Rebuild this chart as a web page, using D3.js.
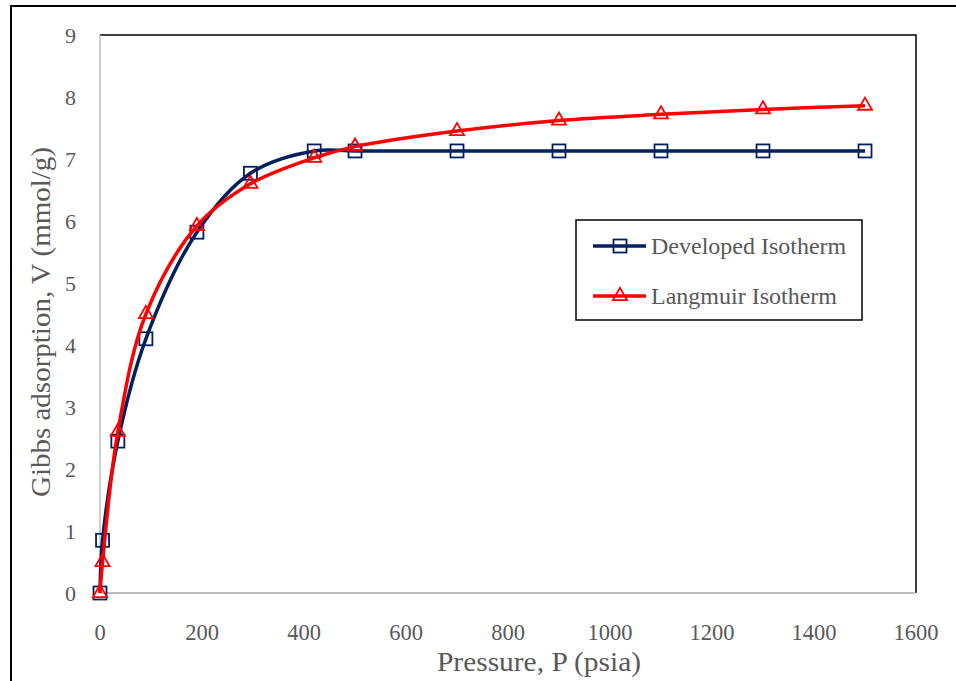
<!DOCTYPE html>
<html>
<head>
<meta charset="utf-8">
<script src="https://cdn.jsdelivr.net/npm/d3@7"></script>
<style>
  body { margin: 0; background: #fff; }
  svg text { font-family: "Liberation Serif", "Times New Roman", serif; fill: #595959; }
</style>
</head>
<body>
<svg id="chart" width="956" height="681"></svg>
<script>
// pressure values (psia)
var devP = [0, 5, 35, 90, 190, 295, 420, 500, 700, 900, 1100, 1300, 1500];
var devV = [0, 0.85, 2.45, 4.1, 5.82, 6.77, 7.13, 7.13, 7.13, 7.13, 7.13, 7.13, 7.13];
var langP = [0, 5, 35, 90, 190, 295, 420, 500, 700, 900, 1100, 1300, 1500];
var langV = [0, 0.5, 2.6, 4.5, 5.92, 6.6, 7.02, 7.2, 7.45, 7.62, 7.72, 7.8, 7.86];
var xTicks = [0, 200, 400, 600, 800, 1000, 1200, 1400, 1600];
var yTicks = [0, 1, 2, 3, 4, 5, 6, 7, 8, 9];
var seriesNames = ["Developed Isotherm", "Langmuir Isotherm"];

var svg = d3.select("#chart");
var pLeft = 100, pRight = 916, pTop = 35, pBottom = 593;

var x = d3.scaleLinear().domain([0, 1600]).range([pLeft, pRight]);
var y = d3.scaleLinear().domain([0, 9]).range([pBottom, pTop]);

// outer frame
svg.append("rect")
  .attr("x", 11).attr("y", 6)
  .attr("width", 960).attr("height", 700)
  .attr("fill", "none").attr("stroke", "#000").attr("stroke-width", 2);

// plot area border (top/right black)
svg.append("path")
  .attr("d", "M" + pLeft + "," + pTop + "H" + pRight + "V" + pBottom)
  .attr("fill", "none").attr("stroke", "#000").attr("stroke-width", 1.5);

// axes lines
svg.append("line")
  .attr("x1", pLeft).attr("x2", pLeft).attr("y1", pTop).attr("y2", pBottom)
  .attr("stroke", "#bfbfbf").attr("stroke-width", 1.5);
svg.append("line")
  .attr("x1", pLeft).attr("x2", pRight).attr("y1", pBottom).attr("y2", pBottom)
  .attr("stroke", "#a6a6a6").attr("stroke-width", 1.5);

// tick labels
svg.selectAll(".ylab")
  .data(yTicks)
  .enter().append("text")
  .attr("class", "ylab")
  .attr("x", 76).attr("y", d => y(d))
  .attr("dy", "0.35em")
  .attr("text-anchor", "end")
  .style("font-size", "22px")
  .text(d => d);

svg.selectAll(".xlab")
  .data(xTicks)
  .enter().append("text")
  .attr("class", "xlab")
  .attr("x", d => x(d)).attr("y", 632)
  .attr("dy", "0.35em")
  .attr("text-anchor", "middle")
  .style("font-size", "22.5px")
  .text(d => d);

// axis titles
svg.append("text")
  .attr("x", 539).attr("y", 661)
  .attr("dy", "0.35em")
  .attr("text-anchor", "middle")
  .attr("textLength", 204)
  .attr("lengthAdjust", "spacingAndGlyphs")
  .style("font-size", "28px")
  .text("Pressure, P (psia)");

svg.append("text")
  .attr("transform", "translate(40,322) rotate(-90)")
  .attr("dy", "0.35em")
  .attr("text-anchor", "middle")
  .attr("textLength", 350)
  .attr("lengthAdjust", "spacingAndGlyphs")
  .style("font-size", "28px")
  .text("Gibbs adsorption, V (mmol/g)");

var line = d3.line()
  .x(d => x(d[0]))
  .y(d => y(d[1]))
  .curve(d3.curveCatmullRom.alpha(0.5));

var devData = d3.zip(devP, devV);
var langData = d3.zip(langP, langV);

var navy = "#002060", red = "#ff0000";

svg.append("path")
  .datum(devData)
  .attr("d", line)
  .attr("fill", "none").attr("stroke", navy).attr("stroke-width", 3.5);

svg.selectAll(".sq")
  .data(devData)
  .enter().append("rect")
  .attr("class", "sq")
  .attr("x", d => x(d[0]) - 6.5).attr("y", d => y(d[1]) - 6.5)
  .attr("width", 13).attr("height", 13)
  .attr("fill", "none").attr("stroke", navy).attr("stroke-width", 1.8);

svg.append("path")
  .datum(langData)
  .attr("d", line)
  .attr("fill", "none").attr("stroke", red).attr("stroke-width", 3.5);

var tri = d3.symbol().type(d3.symbolTriangle).size(85);
svg.selectAll(".tri")
  .data(langData)
  .enter().append("path")
  .attr("class", "tri")
  .attr("transform", d => "translate(" + x(d[0]) + "," + y(d[1]) + ")")
  .attr("d", tri)
  .attr("fill", "none").attr("stroke", red).attr("stroke-width", 1.8);

// legend
var lg = svg.append("g");
lg.append("rect")
  .attr("x", 576).attr("y", 220).attr("width", 286).attr("height", 100)
  .attr("fill", "#fff").attr("stroke", "#000").attr("stroke-width", 1.5);

var rows = [
  { name: seriesNames[0], color: navy, y: 246, mark: "sq" },
  { name: seriesNames[1], color: red, y: 296, mark: "tri" }
];
rows.forEach(function (r) {
  lg.append("line")
    .attr("x1", 593).attr("x2", 646).attr("y1", r.y).attr("y2", r.y)
    .attr("stroke", r.color).attr("stroke-width", 3.5);
  if (r.mark === "sq") {
    lg.append("rect")
      .attr("x", 620 - 6.5).attr("y", r.y - 6.5)
      .attr("width", 13).attr("height", 13)
      .attr("fill", "none").attr("stroke", r.color).attr("stroke-width", 1.8);
  } else {
    lg.append("path")
      .attr("transform", "translate(620," + r.y + ")")
      .attr("d", tri)
      .attr("fill", "none").attr("stroke", r.color).attr("stroke-width", 1.8);
  }
  lg.append("text")
    .attr("x", 651).attr("y", r.y)
    .attr("dy", "0.35em")
    .style("font-size", "24px")
    .text(r.name);
});
</script>
</body>
</html>
